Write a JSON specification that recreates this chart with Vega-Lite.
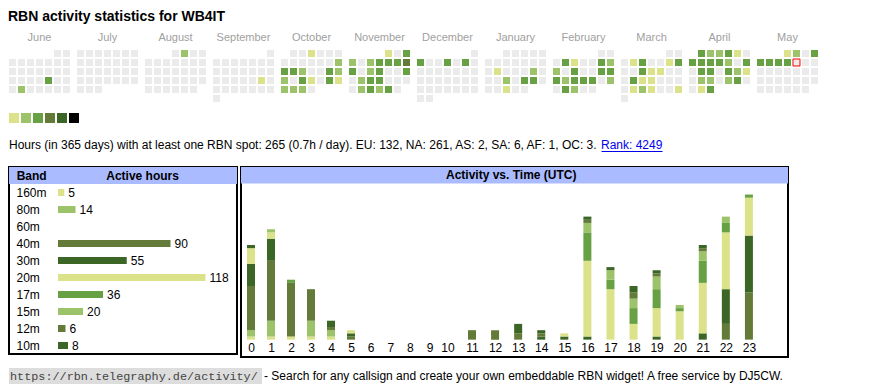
{
"$schema": "https://vega.github.io/schema/vega-lite/v6.json",
"background": "white",
"padding": {"left": 8, "top": 10, "right": 4, "bottom": 4},
"config": {"view": {"stroke": null}, "font": "Liberation Sans", "axis": {"grid": false}},
"title": {"text": "RBN activity statistics for WB4IT", "anchor": "start", "fontSize": 14, "fontWeight": "bold", "color": "#000000", "baseline": "alphabetic", "offset": 0, "dy": 4},
"datasets": {
"cal": [
{"m":0,"w":0,"d":5,"v":0},{"m":0,"w":0,"d":6,"v":0},
{"m":0,"w":1,"d":0,"v":0},{"m":0,"w":1,"d":1,"v":0},{"m":0,"w":1,"d":2,"v":0},{"m":0,"w":1,"d":3,"v":0},{"m":0,"w":1,"d":4,"v":0},{"m":0,"w":1,"d":5,"v":0},{"m":0,"w":1,"d":6,"v":0},
{"m":0,"w":2,"d":0,"v":0},{"m":0,"w":2,"d":1,"v":0},{"m":0,"w":2,"d":2,"v":0},{"m":0,"w":2,"d":3,"v":0},{"m":0,"w":2,"d":4,"v":0},{"m":0,"w":2,"d":5,"v":0},{"m":0,"w":2,"d":6,"v":0},
{"m":0,"w":3,"d":0,"v":0},{"m":0,"w":3,"d":1,"v":0},{"m":0,"w":3,"d":2,"v":0},{"m":0,"w":3,"d":3,"v":0},{"m":0,"w":3,"d":4,"v":3},{"m":0,"w":3,"d":5,"v":0},{"m":0,"w":3,"d":6,"v":0},
{"m":0,"w":4,"d":0,"v":0},{"m":0,"w":4,"d":1,"v":2},{"m":0,"w":4,"d":2,"v":0},{"m":0,"w":4,"d":3,"v":0},{"m":0,"w":4,"d":4,"v":0},{"m":0,"w":4,"d":5,"v":0},{"m":0,"w":4,"d":6,"v":0},
{"m":1,"w":0,"d":0,"v":0},{"m":1,"w":0,"d":1,"v":0},{"m":1,"w":0,"d":2,"v":0},{"m":1,"w":0,"d":3,"v":0},{"m":1,"w":0,"d":4,"v":0},{"m":1,"w":0,"d":5,"v":0},{"m":1,"w":0,"d":6,"v":0},
{"m":1,"w":1,"d":0,"v":0},{"m":1,"w":1,"d":1,"v":0},{"m":1,"w":1,"d":2,"v":0},{"m":1,"w":1,"d":3,"v":0},{"m":1,"w":1,"d":4,"v":0},{"m":1,"w":1,"d":5,"v":0},{"m":1,"w":1,"d":6,"v":0},
{"m":1,"w":2,"d":0,"v":0},{"m":1,"w":2,"d":1,"v":0},{"m":1,"w":2,"d":2,"v":0},{"m":1,"w":2,"d":3,"v":0},{"m":1,"w":2,"d":4,"v":0},{"m":1,"w":2,"d":5,"v":0},{"m":1,"w":2,"d":6,"v":0},
{"m":1,"w":3,"d":0,"v":0},{"m":1,"w":3,"d":1,"v":0},{"m":1,"w":3,"d":2,"v":0},{"m":1,"w":3,"d":3,"v":0},{"m":1,"w":3,"d":4,"v":0},{"m":1,"w":3,"d":5,"v":0},{"m":1,"w":3,"d":6,"v":0},
{"m":1,"w":4,"d":0,"v":0},{"m":1,"w":4,"d":1,"v":0},{"m":1,"w":4,"d":2,"v":0},
{"m":2,"w":0,"d":3,"v":0},{"m":2,"w":0,"d":4,"v":2},{"m":2,"w":0,"d":5,"v":0},{"m":2,"w":0,"d":6,"v":0},
{"m":2,"w":1,"d":0,"v":0},{"m":2,"w":1,"d":1,"v":0},{"m":2,"w":1,"d":2,"v":0},{"m":2,"w":1,"d":3,"v":0},{"m":2,"w":1,"d":4,"v":0},{"m":2,"w":1,"d":5,"v":0},{"m":2,"w":1,"d":6,"v":0},
{"m":2,"w":2,"d":0,"v":0},{"m":2,"w":2,"d":1,"v":0},{"m":2,"w":2,"d":2,"v":0},{"m":2,"w":2,"d":3,"v":0},{"m":2,"w":2,"d":4,"v":0},{"m":2,"w":2,"d":5,"v":0},{"m":2,"w":2,"d":6,"v":0},
{"m":2,"w":3,"d":0,"v":0},{"m":2,"w":3,"d":1,"v":0},{"m":2,"w":3,"d":2,"v":0},{"m":2,"w":3,"d":3,"v":0},{"m":2,"w":3,"d":4,"v":0},{"m":2,"w":3,"d":5,"v":0},{"m":2,"w":3,"d":6,"v":0},
{"m":2,"w":4,"d":0,"v":0},{"m":2,"w":4,"d":1,"v":0},{"m":2,"w":4,"d":2,"v":0},{"m":2,"w":4,"d":3,"v":0},{"m":2,"w":4,"d":4,"v":0},{"m":2,"w":4,"d":5,"v":0},
{"m":3,"w":0,"d":6,"v":0},
{"m":3,"w":1,"d":0,"v":0},{"m":3,"w":1,"d":1,"v":0},{"m":3,"w":1,"d":2,"v":0},{"m":3,"w":1,"d":3,"v":0},{"m":3,"w":1,"d":4,"v":0},{"m":3,"w":1,"d":5,"v":0},{"m":3,"w":1,"d":6,"v":0},
{"m":3,"w":2,"d":0,"v":0},{"m":3,"w":2,"d":1,"v":0},{"m":3,"w":2,"d":2,"v":0},{"m":3,"w":2,"d":3,"v":0},{"m":3,"w":2,"d":4,"v":0},{"m":3,"w":2,"d":5,"v":0},{"m":3,"w":2,"d":6,"v":0},
{"m":3,"w":3,"d":0,"v":0},{"m":3,"w":3,"d":1,"v":0},{"m":3,"w":3,"d":2,"v":0},{"m":3,"w":3,"d":3,"v":0},{"m":3,"w":3,"d":4,"v":0},{"m":3,"w":3,"d":5,"v":1},{"m":3,"w":3,"d":6,"v":0},
{"m":3,"w":4,"d":0,"v":0},{"m":3,"w":4,"d":1,"v":0},{"m":3,"w":4,"d":2,"v":0},{"m":3,"w":4,"d":3,"v":0},{"m":3,"w":4,"d":4,"v":0},{"m":3,"w":4,"d":5,"v":0},{"m":3,"w":4,"d":6,"v":0},
{"m":3,"w":5,"d":0,"v":0},
{"m":4,"w":0,"d":1,"v":0},{"m":4,"w":0,"d":2,"v":0},{"m":4,"w":0,"d":3,"v":1},{"m":4,"w":0,"d":4,"v":0},{"m":4,"w":0,"d":5,"v":0},{"m":4,"w":0,"d":6,"v":0},
{"m":4,"w":1,"d":0,"v":0},{"m":4,"w":1,"d":1,"v":0},{"m":4,"w":1,"d":2,"v":0},{"m":4,"w":1,"d":3,"v":0},{"m":4,"w":1,"d":4,"v":0},{"m":4,"w":1,"d":5,"v":0},{"m":4,"w":1,"d":6,"v":2},
{"m":4,"w":2,"d":0,"v":3},{"m":4,"w":2,"d":1,"v":3},{"m":4,"w":2,"d":2,"v":2},{"m":4,"w":2,"d":3,"v":0},{"m":4,"w":2,"d":4,"v":0},{"m":4,"w":2,"d":5,"v":3},{"m":4,"w":2,"d":6,"v":2},
{"m":4,"w":3,"d":0,"v":2},{"m":4,"w":3,"d":1,"v":0},{"m":4,"w":3,"d":2,"v":3},{"m":4,"w":3,"d":3,"v":1},{"m":4,"w":3,"d":4,"v":0},{"m":4,"w":3,"d":5,"v":3},{"m":4,"w":3,"d":6,"v":1},
{"m":4,"w":4,"d":0,"v":2},{"m":4,"w":4,"d":1,"v":2},{"m":4,"w":4,"d":2,"v":2},{"m":4,"w":4,"d":3,"v":0},
{"m":5,"w":0,"d":4,"v":1},{"m":5,"w":0,"d":5,"v":0},{"m":5,"w":0,"d":6,"v":3},
{"m":5,"w":1,"d":0,"v":2},{"m":5,"w":1,"d":1,"v":0},{"m":5,"w":1,"d":2,"v":2},{"m":5,"w":1,"d":3,"v":3},{"m":5,"w":1,"d":4,"v":3},{"m":5,"w":1,"d":5,"v":3},{"m":5,"w":1,"d":6,"v":4},
{"m":5,"w":2,"d":0,"v":3},{"m":5,"w":2,"d":1,"v":0},{"m":5,"w":2,"d":2,"v":2},{"m":5,"w":2,"d":3,"v":3},{"m":5,"w":2,"d":4,"v":0},{"m":5,"w":2,"d":5,"v":0},{"m":5,"w":2,"d":6,"v":3},
{"m":5,"w":3,"d":0,"v":0},{"m":5,"w":3,"d":1,"v":2},{"m":5,"w":3,"d":2,"v":3},{"m":5,"w":3,"d":3,"v":3},{"m":5,"w":3,"d":4,"v":0},{"m":5,"w":3,"d":5,"v":0},{"m":5,"w":3,"d":6,"v":0},
{"m":5,"w":4,"d":0,"v":0},{"m":5,"w":4,"d":1,"v":2},{"m":5,"w":4,"d":2,"v":3},{"m":5,"w":4,"d":3,"v":2},{"m":5,"w":4,"d":4,"v":3},{"m":5,"w":4,"d":5,"v":0},
{"m":6,"w":0,"d":6,"v":0},
{"m":6,"w":1,"d":0,"v":3},{"m":6,"w":1,"d":1,"v":0},{"m":6,"w":1,"d":2,"v":0},{"m":6,"w":1,"d":3,"v":3},{"m":6,"w":1,"d":4,"v":0},{"m":6,"w":1,"d":5,"v":3},{"m":6,"w":1,"d":6,"v":0},
{"m":6,"w":2,"d":0,"v":0},{"m":6,"w":2,"d":1,"v":0},{"m":6,"w":2,"d":2,"v":0},{"m":6,"w":2,"d":3,"v":0},{"m":6,"w":2,"d":4,"v":0},{"m":6,"w":2,"d":5,"v":0},{"m":6,"w":2,"d":6,"v":0},
{"m":6,"w":3,"d":0,"v":0},{"m":6,"w":3,"d":1,"v":0},{"m":6,"w":3,"d":2,"v":0},{"m":6,"w":3,"d":3,"v":0},{"m":6,"w":3,"d":4,"v":0},{"m":6,"w":3,"d":5,"v":0},{"m":6,"w":3,"d":6,"v":0},
{"m":6,"w":4,"d":0,"v":0},{"m":6,"w":4,"d":1,"v":0},{"m":6,"w":4,"d":2,"v":0},{"m":6,"w":4,"d":3,"v":0},{"m":6,"w":4,"d":4,"v":0},{"m":6,"w":4,"d":5,"v":0},{"m":6,"w":4,"d":6,"v":0},
{"m":6,"w":5,"d":0,"v":0},{"m":6,"w":5,"d":1,"v":0},
{"m":7,"w":0,"d":2,"v":0},{"m":7,"w":0,"d":3,"v":0},{"m":7,"w":0,"d":4,"v":0},{"m":7,"w":0,"d":5,"v":0},{"m":7,"w":0,"d":6,"v":0},
{"m":7,"w":1,"d":0,"v":0},{"m":7,"w":1,"d":1,"v":0},{"m":7,"w":1,"d":2,"v":0},{"m":7,"w":1,"d":3,"v":0},{"m":7,"w":1,"d":4,"v":0},{"m":7,"w":1,"d":5,"v":0},{"m":7,"w":1,"d":6,"v":0},
{"m":7,"w":2,"d":0,"v":0},{"m":7,"w":2,"d":1,"v":1},{"m":7,"w":2,"d":2,"v":0},{"m":7,"w":2,"d":3,"v":0},{"m":7,"w":2,"d":4,"v":0},{"m":7,"w":2,"d":5,"v":2},{"m":7,"w":2,"d":6,"v":0},
{"m":7,"w":3,"d":0,"v":0},{"m":7,"w":3,"d":1,"v":0},{"m":7,"w":3,"d":2,"v":2},{"m":7,"w":3,"d":3,"v":0},{"m":7,"w":3,"d":4,"v":3},{"m":7,"w":3,"d":5,"v":3},{"m":7,"w":3,"d":6,"v":0},
{"m":7,"w":4,"d":0,"v":0},{"m":7,"w":4,"d":1,"v":0},{"m":7,"w":4,"d":2,"v":1},{"m":7,"w":4,"d":3,"v":0},{"m":7,"w":4,"d":4,"v":0},
{"m":8,"w":0,"d":5,"v":0},{"m":8,"w":0,"d":6,"v":0},
{"m":8,"w":1,"d":0,"v":0},{"m":8,"w":1,"d":1,"v":3},{"m":8,"w":1,"d":2,"v":1},{"m":8,"w":1,"d":3,"v":0},{"m":8,"w":1,"d":4,"v":0},{"m":8,"w":1,"d":5,"v":3},{"m":8,"w":1,"d":6,"v":2},
{"m":8,"w":2,"d":0,"v":2},{"m":8,"w":2,"d":1,"v":0},{"m":8,"w":2,"d":2,"v":3},{"m":8,"w":2,"d":3,"v":0},{"m":8,"w":2,"d":4,"v":0},{"m":8,"w":2,"d":5,"v":3},{"m":8,"w":2,"d":6,"v":3},
{"m":8,"w":3,"d":0,"v":3},{"m":8,"w":3,"d":1,"v":2},{"m":8,"w":3,"d":2,"v":3},{"m":8,"w":3,"d":3,"v":3},{"m":8,"w":3,"d":4,"v":3},{"m":8,"w":3,"d":5,"v":0},{"m":8,"w":3,"d":6,"v":2},
{"m":8,"w":4,"d":0,"v":0},{"m":8,"w":4,"d":1,"v":3},{"m":8,"w":4,"d":2,"v":2},{"m":8,"w":4,"d":3,"v":0},{"m":8,"w":4,"d":4,"v":0},
{"m":9,"w":0,"d":5,"v":0},{"m":9,"w":0,"d":6,"v":0},
{"m":9,"w":1,"d":0,"v":0},{"m":9,"w":1,"d":1,"v":1},{"m":9,"w":1,"d":2,"v":3},{"m":9,"w":1,"d":3,"v":0},{"m":9,"w":1,"d":4,"v":0},{"m":9,"w":1,"d":5,"v":1},{"m":9,"w":1,"d":6,"v":3},
{"m":9,"w":2,"d":0,"v":0},{"m":9,"w":2,"d":1,"v":0},{"m":9,"w":2,"d":2,"v":3},{"m":9,"w":2,"d":3,"v":1},{"m":9,"w":2,"d":4,"v":1},{"m":9,"w":2,"d":5,"v":0},{"m":9,"w":2,"d":6,"v":0},
{"m":9,"w":3,"d":0,"v":0},{"m":9,"w":3,"d":1,"v":3},{"m":9,"w":3,"d":2,"v":1},{"m":9,"w":3,"d":3,"v":1},{"m":9,"w":3,"d":4,"v":0},{"m":9,"w":3,"d":5,"v":0},{"m":9,"w":3,"d":6,"v":0},
{"m":9,"w":4,"d":0,"v":0},{"m":9,"w":4,"d":1,"v":1},{"m":9,"w":4,"d":2,"v":2},{"m":9,"w":4,"d":3,"v":1},{"m":9,"w":4,"d":4,"v":0},{"m":9,"w":4,"d":5,"v":0},{"m":9,"w":4,"d":6,"v":1},
{"m":9,"w":5,"d":0,"v":0},
{"m":10,"w":0,"d":1,"v":3},{"m":10,"w":0,"d":2,"v":2},{"m":10,"w":0,"d":3,"v":2},{"m":10,"w":0,"d":4,"v":3},{"m":10,"w":0,"d":5,"v":1},{"m":10,"w":0,"d":6,"v":0},
{"m":10,"w":1,"d":0,"v":3},{"m":10,"w":1,"d":1,"v":3},{"m":10,"w":1,"d":2,"v":3},{"m":10,"w":1,"d":3,"v":3},{"m":10,"w":1,"d":4,"v":2},{"m":10,"w":1,"d":5,"v":0},{"m":10,"w":1,"d":6,"v":3},
{"m":10,"w":2,"d":0,"v":0},{"m":10,"w":2,"d":1,"v":3},{"m":10,"w":2,"d":2,"v":3},{"m":10,"w":2,"d":3,"v":0},{"m":10,"w":2,"d":4,"v":3},{"m":10,"w":2,"d":5,"v":2},{"m":10,"w":2,"d":6,"v":1},
{"m":10,"w":3,"d":0,"v":0},{"m":10,"w":3,"d":1,"v":2},{"m":10,"w":3,"d":2,"v":2},{"m":10,"w":3,"d":3,"v":0},{"m":10,"w":3,"d":4,"v":2},{"m":10,"w":3,"d":5,"v":3},{"m":10,"w":3,"d":6,"v":0},
{"m":10,"w":4,"d":0,"v":0},{"m":10,"w":4,"d":1,"v":1},{"m":10,"w":4,"d":2,"v":3},
{"m":11,"w":0,"d":3,"v":1},{"m":11,"w":0,"d":4,"v":2},{"m":11,"w":0,"d":5,"v":0},{"m":11,"w":0,"d":6,"v":3},
{"m":11,"w":1,"d":0,"v":3},{"m":11,"w":1,"d":1,"v":3},{"m":11,"w":1,"d":2,"v":3},{"m":11,"w":1,"d":3,"v":3},{"m":11,"w":1,"d":4,"v":0,"t":1},{"m":11,"w":1,"d":5,"v":0},{"m":11,"w":1,"d":6,"v":0},
{"m":11,"w":2,"d":0,"v":0},{"m":11,"w":2,"d":1,"v":0},{"m":11,"w":2,"d":2,"v":0},{"m":11,"w":2,"d":3,"v":0},{"m":11,"w":2,"d":4,"v":0},{"m":11,"w":2,"d":5,"v":0},{"m":11,"w":2,"d":6,"v":0},
{"m":11,"w":3,"d":0,"v":0},{"m":11,"w":3,"d":1,"v":0},{"m":11,"w":3,"d":2,"v":0},{"m":11,"w":3,"d":3,"v":0},{"m":11,"w":3,"d":4,"v":0},{"m":11,"w":3,"d":5,"v":0},{"m":11,"w":3,"d":6,"v":0},
{"m":11,"w":4,"d":0,"v":0},{"m":11,"w":4,"d":1,"v":0},{"m":11,"w":4,"d":2,"v":0},{"m":11,"w":4,"d":3,"v":0},{"m":11,"w":4,"d":4,"v":0},{"m":11,"w":4,"d":5,"v":0}
],
"act": [
{"h":0,"m":160,"n":1},{"h":0,"m":80,"n":2},{"h":0,"m":40,"n":14},{"h":0,"m":30,"n":7},{"h":0,"m":20,"n":5},{"h":0,"m":10,"n":1},
{"h":1,"m":160,"n":1},{"h":1,"m":80,"n":5},{"h":1,"m":40,"n":19},{"h":1,"m":30,"n":7},{"h":1,"m":20,"n":2},{"h":1,"m":15,"n":1},
{"h":2,"m":160,"n":1},{"h":2,"m":40,"n":17},{"h":2,"m":17,"n":1},
{"h":3,"m":160,"n":1},{"h":3,"m":80,"n":5},{"h":3,"m":40,"n":10},
{"h":4,"m":160,"n":1},{"h":4,"m":80,"n":2},{"h":4,"m":40,"n":1},{"h":4,"m":30,"n":2},
{"h":5,"m":40,"n":1},{"h":5,"m":30,"n":1},{"h":5,"m":20,"n":1},
{"h":11,"m":40,"n":3},
{"h":12,"m":40,"n":3},
{"h":13,"m":40,"n":2},{"h":13,"m":30,"n":3},
{"h":14,"m":30,"n":1},{"h":14,"m":12,"n":1},{"h":14,"m":10,"n":1},
{"h":15,"m":30,"n":1},{"h":15,"m":20,"n":1},
{"h":16,"m":30,"n":1},{"h":16,"m":20,"n":24},{"h":16,"m":17,"n":9},{"h":16,"m":15,"n":3},{"h":16,"m":12,"n":1},{"h":16,"m":10,"n":1},
{"h":17,"m":20,"n":16},{"h":17,"m":17,"n":3},{"h":17,"m":15,"n":3},{"h":17,"m":10,"n":1},
{"h":18,"m":20,"n":5},{"h":18,"m":17,"n":5},{"h":18,"m":15,"n":3},{"h":18,"m":12,"n":2},{"h":18,"m":10,"n":2},
{"h":19,"m":30,"n":1},{"h":19,"m":20,"n":9},{"h":19,"m":17,"n":6},{"h":19,"m":15,"n":4},{"h":19,"m":12,"n":1},{"h":19,"m":10,"n":1},
{"h":20,"m":20,"n":9},{"h":20,"m":17,"n":1},{"h":20,"m":15,"n":1},
{"h":21,"m":30,"n":2},{"h":21,"m":20,"n":16},{"h":21,"m":17,"n":7},{"h":21,"m":15,"n":3},{"h":21,"m":12,"n":1},{"h":21,"m":10,"n":1},
{"h":22,"m":40,"n":5},{"h":22,"m":30,"n":11},{"h":22,"m":20,"n":18},{"h":22,"m":17,"n":3},{"h":22,"m":15,"n":2},
{"h":23,"m":40,"n":15},{"h":23,"m":30,"n":18},{"h":23,"m":20,"n":12},{"h":23,"m":17,"n":1}
]
},
"spacing": 10,
"resolve": {"scale": {"color": "independent"}},
"vconcat": [
{
"width": 809, "height": 52,
"data": {"name": "cal"},
"mark": {"type": "rect", "strokeWidth": 1},
"encoding": {
"x": {"field": "m", "type": "ordinal", "scale": {"domain": [0,1,2,3,4,5,6,7,8,9,10,11], "paddingInner": 0.1029, "paddingOuter": 0},
"axis": {"orient": "top", "title": null, "domain": false, "ticks": false, "tickSize": 0, "minExtent": 0, "labelAngle": 0, "labelPadding": 8, "labelFontSize": 11, "labelColor": "#a0a0a0", "labelExpr": "['June','July','August','September','October','November','December','January','February','March','April','May'][datum.value]"}},
"xOffset": {"field": "d", "type": "ordinal", "scale": {"domain": [0,1,2,3,4,5,6], "paddingInner": 0.2222, "paddingOuter": 0}},
"y": {"field": "w", "type": "ordinal", "scale": {"domain": [0,1,2,3,4,5], "paddingInner": 0.2222, "paddingOuter": 0}, "axis": null},
"color": {"field": "v", "type": "ordinal", "legend": null, "scale": {"domain": [0,1,2,3,4,5], "range": ["#ebebeb","#dbe28a","#9cc26a","#68a044","#647a38","#3b6626"]}},
"stroke": {"condition": {"test": "datum.t == 1", "value": "#ff0000"}, "value": "transparent"}
}
},
{
"width": 70, "height": 10,
"data": {"values": [{"s":1},{"s":2},{"s":3},{"s":4},{"s":5},{"s":6}]},
"mark": "rect",
"encoding": {
"x": {"field": "s", "type": "ordinal", "axis": null, "scale": {"paddingInner": 0.1667, "paddingOuter": 0}},
"color": {"field": "s", "type": "ordinal", "legend": null, "scale": {"domain": [1,2,3,4,5,6], "range": ["#dbe28a","#9cc26a","#68a044","#647a38","#3b6626","#000000"]}}
}
},
{
"spacing": 0,
"bounds": "flush",
"hconcat": [
{
"width": 592, "height": 23,
"data": {"values": [{"t": "Hours (in 365 days) with at least one RBN spot: 265 (0.7h / day). EU: 132, NA: 261, AS: 2, SA: 6, AF: 1, OC: 3."}]},
"mark": {"type": "text", "align": "left", "baseline": "middle", "fontSize": 12, "color": "#000000"},
"encoding": {"text": {"field": "t"}, "x": {"datum": 0, "type": "quantitative", "scale": {"domain": [0, 1]}, "axis": null}}
},
{
"width": 61, "height": 23,
"data": {"values": [{"t": "Rank: 4249"}]},
"mark": {"type": "text", "align": "left", "baseline": "middle", "fontSize": 12, "color": "#0000ee"},
"encoding": {"text": {"field": "t"}, "x": {"datum": 0, "type": "quantitative", "scale": {"domain": [0, 1]}, "axis": {"orient": "bottom", "offset": -5, "domainColor": "#0000ee", "domainWidth": 1, "labels": false, "ticks": false, "grid": false, "title": null}}}
}
]
},
{
"spacing": 4,
"bounds": "flush",
"resolve": {"scale": {"color": "independent"}},
"hconcat": [
{
"width": 228, "height": 187,
"view": {"stroke": "#000000", "strokeWidth": 2},
"data": {"values": [{"band":"160m","hours":5},{"band":"80m","hours":14},{"band":"40m","hours":90},{"band":"30m","hours":55},{"band":"20m","hours":118},{"band":"17m","hours":36},{"band":"15m","hours":20},{"band":"12m","hours":6},{"band":"10m","hours":8}]},
"encoding": {
"y": {"field": "band", "type": "nominal", "scale": {"domain": ["hdr","160m","80m","60m","40m","30m","20m","17m","15m","12m","10m"], "paddingInner": 0, "paddingOuter": 0},
"axis": {"orient": "left", "title": null, "domain": false, "ticks": false, "tickSize": 0, "labelPadding": -7, "labelAlign": "left", "labelBaseline": "middle", "labelFontSize": 12, "labelColor": "#000000", "zindex": 1,
"labelExpr": "datum.value == 'hdr' ? '' : datum.value"}}
},
"layer": [
{"data": {"values": [{"band": "hdr", "lab": "Band"}]}, "mark": {"type": "rect", "color": "#aabbff"}, "encoding": {"x": {"value": 0}, "x2": {"value": "width"}}},
{"data": {"values": [{"band": "hdr", "lab": "Band"}]}, "mark": {"type": "text", "align": "left", "baseline": "middle", "fontSize": 12, "fontWeight": "bold", "color": "#000000"}, "encoding": {"x": {"datum": -33.04, "type": "quantitative", "axis": null}, "text": {"field": "lab"}}},
{"data": {"values": [{"band": "hdr", "lab": "Active hours"}]}, "mark": {"type": "text", "align": "center", "baseline": "middle", "fontSize": 12, "fontWeight": "bold", "color": "#000000"}, "encoding": {"x": {"datum": 67.65, "type": "quantitative", "axis": null}, "text": {"field": "lab"}}},
{"mark": {"type": "bar", "size": 7}, "encoding": {
"x": {"field": "hours", "type": "quantitative", "scale": {"domain": [0, 118], "range": [49, 199], "padding": 0}, "axis": null},
"color": {"field": "band", "type": "nominal", "legend": null, "scale": {"domain": ["160m","80m","60m","40m","30m","20m","17m","15m","12m","10m"], "range": ["#dbe28a","#9cc26a","#68a044","#647a38","#3b6626","#dbe28a","#68a044","#9cc26a","#647a38","#3b6626"]}}}},
{"mark": {"type": "text", "align": "left", "baseline": "middle", "dx": 4, "fontSize": 12, "color": "#000000"}, "encoding": {
"x": {"field": "hours", "type": "quantitative", "axis": null},
"text": {"field": "hours", "type": "quantitative"}}}
]
},
{
"width": 547, "height": 190,
"view": {"stroke": "#000000", "strokeWidth": 2},
"layer": [
{"data": {"values": [{"k": 1}]}, "mark": {"type": "rect", "color": "#aabbff"}, "encoding": {"x": {"value": 0}, "x2": {"value": "width"}, "y": {"datum": 49.5, "type": "quantitative", "axis": null}, "y2": {"datum": 54.73}}},
{"data": {"name": "act"}, "mark": {"type": "bar", "size": 8}, "encoding": {
"x": {"field": "h", "type": "quantitative", "scale": {"domain": [0,5,9,10,11,23], "range": [10,110,188.5,206.5,231,531], "padding": 0},
"axis": {"orient": "bottom", "offset": -17.35, "values": [0,1,2,3,4,5,6,7,8,9,10,11,12,13,14,15,16,17,18,19,20,21,22,23], "format": "d", "domain": false, "ticks": false, "tickSize": 0, "labelPadding": 3, "labelFontSize": 12, "labelColor": "#000000", "labelOverlap": false, "labelFlush": false, "labelBaseline": "top", "title": null, "zindex": 1}},
"y": {"field": "n", "type": "quantitative", "stack": "zero", "scale": {"domain": [-5.5, 54.73], "nice": false, "zero": false}, "axis": null},
"color": {"field": "m", "type": "nominal", "legend": null, "scale": {"domain": [160,80,60,40,30,20,17,15,12,10], "range": ["#dbe28a","#9cc26a","#68a044","#647a38","#3b6626","#dbe28a","#68a044","#9cc26a","#647a38","#3b6626"]}},
"order": {"field": "m", "sort": "descending"}
}},
{"data": {"values": [{"lab": "Activity vs. Time (UTC)"}]}, "mark": {"type": "text", "align": "center", "baseline": "middle", "fontSize": 12, "fontWeight": "bold", "color": "#000000"}, "encoding": {
"x": {"datum": 12.7, "type": "quantitative",
"axis": {"orient": "bottom", "offset": -17.35, "values": [0,1,2,3,4,5,6,7,8,9,10,11,12,13,14,15,16,17,18,19,20,21,22,23], "format": "d", "domain": false, "ticks": false, "tickSize": 0, "labelPadding": 3, "labelFontSize": 12, "labelColor": "#000000", "labelOverlap": false, "labelFlush": false, "labelBaseline": "top", "title": null, "zindex": 1}},
"y": {"datum": 52.13, "type": "quantitative", "axis": null},
"text": {"field": "lab"}}}
]
}
]
},
{
"spacing": 2,
"bounds": "flush",
"hconcat": [
{
"width": 253, "height": 16,
"view": {"fill": "#dddddd", "stroke": null},
"data": {"values": [{"u": "https://rbn.telegraphy.de/activity/"}]},
"mark": {"type": "text", "align": "left", "baseline": "middle", "dx": 1, "font": "Liberation Mono", "fontSize": 11.8, "color": "#444444"},
"encoding": {"text": {"field": "u"}, "x": {"datum": 0, "type": "quantitative", "scale": {"domain": [0, 1]}, "axis": null}}
},
{
"width": 530, "height": 16,
"data": {"values": [{"f": "- Search for any callsign and create your own embeddable RBN widget! A free service by DJ5CW."}]},
"mark": {"type": "text", "align": "left", "baseline": "middle", "fontSize": 12, "color": "#000000"},
"encoding": {"text": {"field": "f"}, "x": {"datum": 0, "type": "quantitative", "scale": {"domain": [0, 1]}, "axis": null}}
}
]
}
]
}
